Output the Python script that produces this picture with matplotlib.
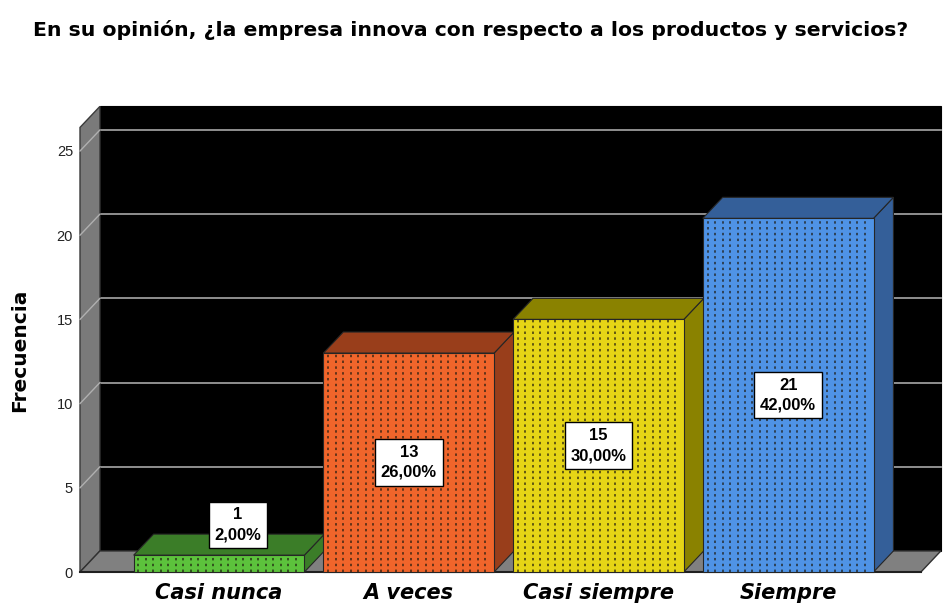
import matplotlib
matplotlib.use('Agg')
import matplotlib.pyplot as plt
from matplotlib.patches import Polygon
import numpy as np

plt.rcParams['font.family'] = ['DejaVu Sans']

# survey answers and counts
categories = ['Casi nunca', 'A veces', 'Casi siempre', 'Siempre']
counts = [1, 13, 15, 21]
percents = ['2,00%', '26,00%', '30,00%', '42,00%']
yticks = [0, 5, 10, 15, 20, 25]

front_colors = ['#5cc23c', '#f0652b', '#e6d516', '#4f93e6']
shade_colors = ['#3b7d28', '#993e1b', '#8a8200', '#345f99']

# pseudo-3d depth (data units) and frame extents
DX, DY = 0.105, 1.25
X0, X1 = -0.733, 3.70
H = 26.4
W = 0.90

fig = plt.figure(figsize=(9.43, 6.05), dpi=100)
ax = fig.add_axes([80 / 943, 33 / 605, (X1 - X0) * 189.7 / 943, H * 16.84 / 605])
ax.set_xlim(X0, X1)
ax.set_ylim(0, H)
for s in ax.spines.values():
    s.set_visible(False)


def poly(pts, fc, ec='#262626', lw=0.8, z=1, **kw):
    p = Polygon(pts, closed=True, facecolor=fc, edgecolor=ec, linewidth=lw,
                zorder=z, clip_on=False, **kw)
    ax.add_patch(p)
    return p


# back wall, left wall, floor
poly([(X0 + DX, DY), (X1 + DX, DY), (X1 + DX, DY + H), (X0 + DX, DY + H)],
     'black', ec='black', z=0)
poly([(X0, 0), (X0 + DX, DY), (X0 + DX, DY + H), (X0, H)], '#7a7a7a',
     ec='#3a3a3a', lw=1.0, z=0.5)
poly([(X0, 0), (X1, 0), (X1 + DX, DY), (X0 + DX, DY)], '#808080',
     ec='#303030', lw=1.0, z=0.5)
ax.plot([X0, X1], [0, 0], color='#202020', lw=1.5, zorder=0.6, clip_on=False)

# gridlines on back and left walls
for t in yticks[1:]:
    ax.plot([X0 + DX, X1 + DX], [t + DY, t + DY], color='#9a9a9a', lw=1.3,
            zorder=0.4, clip_on=False)
    ax.plot([X0, X0 + DX], [t, t + DY], color='#b0b0b0', lw=1.0,
            zorder=0.7, clip_on=False)

# bars
for i, (v, fc, sc) in enumerate(zip(counts, front_colors, shade_colors)):
    l, r = i - W / 2, i + W / 2
    poly([(r, 0), (r + DX, DY), (r + DX, v + DY), (r, v)], sc, z=2)
    poly([(l, v), (r, v), (r + DX, v + DY), (l + DX, v + DY)], sc, z=2)
    front = poly([(l, 0), (r, 0), (r, v), (l, v)], fc, z=2)
    # dotted texture on the front face
    xs = np.arange(l + 0.025, r - 0.01, 0.0395)
    lines = ax.vlines(xs, 0, v, colors='#1e1a10', linestyles=(0, (1.6, 2.2)),
                      linewidth=1.1, zorder=2.1, alpha=0.85)
    lines.set_clip_path(front)

# value labels
for i, (v, p) in enumerate(zip(counts, percents)):
    if v < 3:
        x, y = i + 0.1, v + 1.8
    else:
        x, y = i, v / 2
    ax.text(x, y, f'{v}\n{p}', ha='center', va='center', fontsize=12,
            fontweight='bold', linespacing=1.4, zorder=5,
            family=['Liberation Sans', 'DejaVu Sans'],
            bbox=dict(boxstyle='square,pad=0.35', facecolor='white',
                      edgecolor='black', linewidth=1.0))

ax.set_yticks(yticks)
ax.set_yticklabels([str(t) for t in yticks], fontsize=10.5, color='#222222',
                   family=['Liberation Sans', 'DejaVu Sans'])
ax.set_xticks(range(len(categories)))
ax.set_xticklabels(categories, fontsize=15, fontweight='bold', style='italic')
ax.tick_params(length=0)
ax.tick_params(axis='y', pad=5)
ax.tick_params(axis='x', pad=8)

fig.text(20 / 943, 1 - 350 / 605, 'Frecuencia', rotation=90, ha='center',
         va='center', fontsize=14.5, fontweight='bold')
fig.text(471 / 943, 1 - 30 / 605,
         'En su opinión, ¿la empresa innova con respecto a los productos y servicios?',
         ha='center', va='center', fontsize=14.7, fontweight='bold')

fig.savefig('out.png', dpi=100)
